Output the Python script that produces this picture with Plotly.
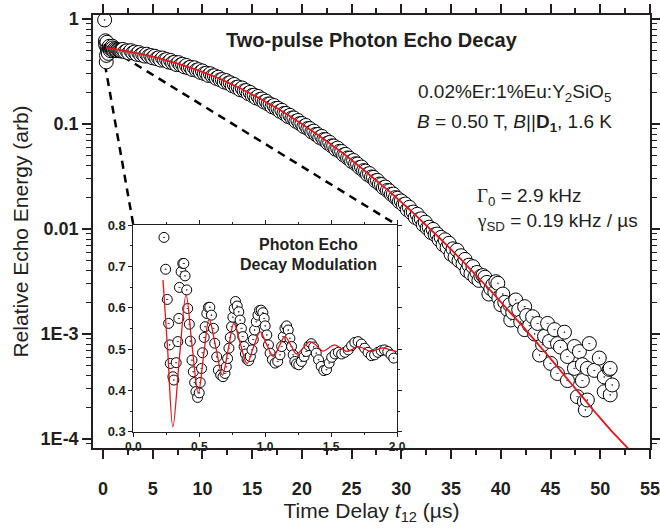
import plotly.graph_objects as go

# ---------------- data ----------------
# main decay data: time delay t12 (us) and relative echo energy
main_t = [0.17, 0.25, 0.28, 0.30, 0.33, 0.36, 0.40, 0.45, 0.50, 0.55,
          0.60, 0.65, 0.70, 0.75, 0.80, 0.85, 0.90, 0.95, 1.00, 1.05,
          1.10, 1.20, 1.30, 1.40, 1.50, 1.60, 1.70, 1.80, 1.90,
          2.0, 2.2, 2.4, 2.6, 2.8, 3.0, 3.2, 3.4, 3.6, 3.8,
          4.0, 4.2, 4.4, 4.6, 4.8, 5.0, 5.2, 5.4, 5.6, 5.8,
          6.0, 6.2, 6.4, 6.6, 6.8, 7.0, 7.2, 7.4, 7.6, 7.8,
          8.0, 8.2, 8.4, 8.6, 8.8, 9.0, 9.2, 9.4, 9.6, 9.8,
          10.0, 10.2, 10.4, 10.6, 10.8, 11.0, 11.2, 11.4, 11.6, 11.8,
          12.0, 12.2, 12.4, 12.6, 12.8, 13.0, 13.2, 13.4, 13.6, 13.8,
          14.0, 14.2, 14.4, 14.6, 14.8, 15.0, 15.2, 15.4, 15.6, 15.8,
          16.0, 16.2, 16.4, 16.6, 16.8, 17.0, 17.2, 17.4, 17.6, 17.8,
          18.0, 18.2, 18.4, 18.6, 18.8, 19.0, 19.2, 19.4, 19.6, 19.8,
          20.0, 20.2, 20.4, 20.6, 20.8, 21.0, 21.2, 21.4, 21.6, 21.8,
          22.0, 22.2, 22.4, 22.6, 22.8, 23.0, 23.2, 23.4, 23.6, 23.8,
          24.0, 24.2, 24.4, 24.6, 24.8, 25.0, 25.2, 25.4, 25.6, 25.8,
          26.0, 26.2, 26.4, 26.6, 26.8, 27.0, 27.2, 27.4, 27.6, 27.8,
          28.0, 28.2, 28.4, 28.6, 28.8, 29.0, 29.2, 29.4, 29.6, 29.8,
          30.0, 30.2, 30.4, 30.6, 30.8, 31.0, 31.2, 31.4, 31.6, 31.8,
          32.0, 32.2, 32.4, 32.6, 32.8, 33.0, 33.2, 33.4, 33.6, 33.8,
          34.0, 34.2, 34.4, 34.6, 34.8, 35.0, 35.2, 35.4, 35.6, 35.8,
          36.0, 36.2, 36.4, 36.6, 36.8, 37.0, 37.2, 37.4, 37.6, 37.8,
          38.0,
          38.2, 38.4, 38.6, 38.8, 39.0, 39.2, 39.4, 39.5, 39.7, 39.8,
          40.0, 40.2, 40.4, 40.7, 40.9, 41.0, 41.2, 41.5, 41.8, 42.0,
          42.4, 42.4, 42.6, 42.9, 43.2, 43.4, 43.7, 43.9, 44.2, 44.4,
          44.7, 44.9, 45.0, 45.4, 45.7, 45.7, 46.0, 46.4, 46.7, 46.7,
          47.4, 47.4, 47.7, 47.9, 48.2, 48.2, 48.4, 48.5, 48.7, 48.7,
          48.9, 49.4, 49.9, 50.4, 50.4, 50.9, 51.0, 51.0, 51.2]
main_y = [0.98, 0.62, 0.58, 0.56, 0.39, 0.45, 0.60, 0.52, 0.49, 0.47,
          0.53, 0.55, 0.52, 0.50, 0.52, 0.53, 0.54, 0.55, 0.53, 0.50,
          0.51, 0.52, 0.51, 0.50, 0.51, 0.505, 0.50, 0.495, 0.50,
          0.513, 0.488, 0.498, 0.475, 0.499, 0.476, 0.485, 0.461, 0.479, 0.455,
          0.463, 0.443, 0.462, 0.442, 0.449, 0.427, 0.442, 0.419, 0.427, 0.406,
          0.425, 0.405, 0.411, 0.389, 0.403, 0.382, 0.387, 0.368, 0.384, 0.365,
          0.370, 0.350, 0.361, 0.342, 0.347, 0.330, 0.343, 0.325, 0.329, 0.310,
          0.320, 0.302, 0.305, 0.290, 0.301, 0.286, 0.288, 0.272, 0.279, 0.263,
          0.265, 0.251, 0.259, 0.245, 0.247, 0.232, 0.238, 0.223, 0.225, 0.212,
          0.220, 0.207, 0.208, 0.195, 0.200, 0.187, 0.188, 0.177, 0.183, 0.172,
          0.173, 0.162, 0.165, 0.155, 0.155, 0.146, 0.150, 0.141, 0.141, 0.132,
          0.135, 0.126, 0.126, 0.118, 0.121, 0.114, 0.114, 0.106, 0.108, 0.101,
          0.101, 0.0944, 0.0968, 0.0906, 0.0904, 0.0841, 0.0855, 0.0796, 0.0794, 0.0743,
          0.0762, 0.0711, 0.0708, 0.0658, 0.0667, 0.0619, 0.0617, 0.0575, 0.0589, 0.0550,
          0.0547, 0.0507, 0.0513, 0.0475, 0.0472, 0.0440, 0.0449, 0.0418, 0.0415, 0.0385,
          0.0389, 0.0360, 0.0356, 0.0331, 0.0337, 0.0313, 0.0310, 0.0287, 0.0290, 0.0268,
          0.0265, 0.0247, 0.0251, 0.0233, 0.0231, 0.0214, 0.0215, 0.0199, 0.0196, 0.0182,
          0.0185, 0.0170, 0.0173, 0.0153, 0.0161, 0.0143, 0.0145, 0.0129, 0.0138, 0.0123,
          0.0125, 0.0110, 0.0116, 0.0102, 0.0104, 0.00925, 0.00991, 0.00883, 0.00895, 0.00791,
          0.00832, 0.00710, 0.00789, 0.00665, 0.00731, 0.00575, 0.00647, 0.00540, 0.00628, 0.00500,
          0.00556, 0.00468, 0.00513, 0.00403, 0.00452, 0.00376, 0.00437, 0.00347, 0.00385, 0.00324,
          0.00355,
          0.0036, 0.00347, 0.0031, 0.0024, 0.0027, 0.00295, 0.0025, 0.00315, 0.00304, 0.0022,
          0.0019, 0.0024, 0.0020, 0.0017, 0.0019, 0.00136, 0.0016, 0.00211, 0.0017, 0.0013,
          0.00182, 0.0011, 0.0015, 0.0012, 0.00146, 0.0010, 0.00126, 0.00063, 0.00079, 0.00095,
          0.00126, 0.00085, 0.000525, 0.0011, 0.00081, 0.00042, 0.00075, 0.00104, 0.00061, 0.00036,
          0.00076, 0.00047, 0.000253, 0.00068, 0.00051, 0.00036, 0.000227, 0.000189, 0.00047, 0.000235,
          0.00081, 0.00045, 0.00059, 0.00039, 0.000282, 0.00046, 0.00047, 0.000263, 0.000327]

# fitted decay curve (red)
fit_t = [0.3, 1, 2, 3, 4, 5, 6, 7, 8, 9, 10, 11, 12, 13, 14, 15, 16, 17, 18,
         19, 20, 21, 22, 23, 24, 25, 26, 27, 28, 29, 30, 31, 32, 33, 34, 35,
         36, 37, 38, 39, 40, 41, 42, 43, 44, 45, 46, 47, 48, 49, 50, 51, 52, 53, 54]
fit_y = [0.531, 0.519, 0.501, 0.481, 0.459, 0.437, 0.413, 0.389, 0.363, 0.339,
         0.313, 0.288, 0.263, 0.237, 0.214, 0.191, 0.170, 0.150, 0.132,
         0.115, 0.100, 0.0861, 0.0741, 0.0631, 0.0537, 0.0452, 0.0380, 0.0316,
         0.0263, 0.0219, 0.0180, 0.0148, 0.0120, 0.00977, 0.00794, 0.00638,
         0.00513, 0.00407, 0.00324, 0.00257, 0.00202, 0.00158, 0.00124,
         0.000966, 0.000750, 0.000582, 0.000447, 0.000343, 0.000266, 0.000204,
         0.000158, 0.000123, 0.0000977, 0.0000776, 0.0000617]

# inset: decay modulation over the first 2 us
inset_t = [0.2325, 0.245, 0.2575, 0.2675, 0.275, 0.28, 0.30, 0.3075, 0.325, 0.3375,
           0.345, 0.35, 0.3625, 0.375, 0.383, 0.3925, 0.405, 0.4125, 0.425, 0.4325,
           0.445, 0.455, 0.465, 0.475, 0.4875, 0.50, 0.5075, 0.5175, 0.525, 0.5375,
           0.545, 0.5575, 0.57, 0.58, 0.5925, 0.6075, 0.6175, 0.6325, 0.645, 0.6625,
           0.68, 0.695, 0.705, 0.715, 0.725, 0.735, 0.745, 0.755, 0.765, 0.775,
           0.7875, 0.80, 0.81, 0.82, 0.83, 0.84, 0.85, 0.8625, 0.875, 0.8875,
           0.90, 0.91, 0.92, 0.9325, 0.945, 0.9575, 0.97, 0.9825, 0.9925, 1.0,
           1.0125, 1.025, 1.0375, 1.055, 1.075, 1.095, 1.1125, 1.125, 1.1375, 1.15,
           1.1625, 1.175, 1.1875, 1.2, 1.2125, 1.225, 1.2375, 1.255, 1.275, 1.295,
           1.3125, 1.3325, 1.35, 1.3675, 1.3875, 1.405, 1.425, 1.445, 1.465, 1.485,
           1.505, 1.53, 1.555, 1.58, 1.605, 1.63, 1.655, 1.68, 1.705, 1.73,
           1.755, 1.78, 1.805, 1.83, 1.855, 1.88, 1.905, 1.93, 1.955, 1.975]
inset_v = [0.770, 0.693, 0.620, 0.562, 0.510, 0.465, 0.433, 0.425, 0.467, 0.518,
           0.574, 0.649, 0.687, 0.707, 0.707, 0.677, 0.643, 0.598, 0.560, 0.519,
           0.473, 0.445, 0.419, 0.397, 0.383, 0.394, 0.419, 0.453, 0.491, 0.528,
           0.554, 0.586, 0.601, 0.601, 0.582, 0.550, 0.514, 0.481, 0.449, 0.437,
           0.433, 0.441, 0.457, 0.477, 0.502, 0.528, 0.554, 0.577, 0.598, 0.615,
           0.604, 0.590, 0.570, 0.550, 0.530, 0.506, 0.488, 0.475, 0.472, 0.482,
           0.498, 0.523, 0.546, 0.566, 0.582, 0.593, 0.594, 0.588, 0.574, 0.556,
           0.534, 0.510, 0.490, 0.474, 0.466, 0.470, 0.486, 0.506, 0.530, 0.550,
           0.556, 0.546, 0.526, 0.506, 0.486, 0.470, 0.464, 0.462, 0.470, 0.482,
           0.494, 0.508, 0.513, 0.505, 0.490, 0.474, 0.458, 0.448, 0.450, 0.466,
           0.480, 0.488, 0.492, 0.488, 0.492, 0.498, 0.508, 0.516, 0.518, 0.512,
           0.502, 0.492, 0.484, 0.486, 0.492, 0.496, 0.498, 0.494, 0.486, 0.478]

inset_fit_t = [0.225, 0.26, 0.30, 0.35, 0.40, 0.445, 0.4925, 0.535, 0.575, 0.625,
               0.675, 0.72, 0.7625, 0.81, 0.8625, 0.91, 0.9625, 1.01, 1.0625, 1.105,
               1.15, 1.195, 1.2375, 1.29, 1.3375, 1.39, 1.4375, 1.48, 1.525, 1.575,
               1.62, 1.665, 1.71, 1.755, 1.80, 1.85, 1.895, 1.945, 2.0]
inset_fit_v = [0.667, 0.50, 0.312, 0.48, 0.631, 0.51, 0.393, 0.49, 0.572, 0.505,
               0.437, 0.50, 0.562, 0.515, 0.465, 0.503, 0.542, 0.512, 0.482, 0.506,
               0.530, 0.509, 0.488, 0.503, 0.518, 0.508, 0.495, 0.502, 0.510, 0.502,
               0.494, 0.500, 0.506, 0.500, 0.494, 0.499, 0.503, 0.498, 0.494]

# zoom-link dashed lines start on the main data (t, energy)
link_start_t = [0.2, 2.0]
link_start_y = [0.37, 0.44]

x_tickvals = [0, 5, 10, 15, 20, 25, 30, 35, 40, 45, 50, 55]
y_tickvals = [1, 0.1, 0.01, 0.001, 0.0001]
y_ticktext = ["1", "0.1", "0.01", "1E-3", "1E-4"]
inset_x_ticks = [0, 0.5, 1.0, 1.5, 2.0]
inset_x_text = ["0.0", "0.5", "1.0", "1.5", "2.0"]
inset_y_ticks = [0.3, 0.4, 0.5, 0.6, 0.7, 0.8]

# ---------------- layout constants ----------------
X_RANGE = [-1, 55]
Y_RANGE_LOG = [-4.086, 0.038]
INSET_X_DOMAIN = [0.0724, 0.5458]
INSET_Y_DOMAIN = [0.0376, 0.515]
FONT = "Liberation Sans, Arial, sans-serif"
INK = "#231f20"
RED = "#e8131b"

fig = go.Figure()

# dashed zoom links, ending at the inset's top corners
y_top = 10 ** (Y_RANGE_LOG[0] + INSET_Y_DOMAIN[1] * (Y_RANGE_LOG[1] - Y_RANGE_LOG[0]))
for k in range(2):
    t_end = X_RANGE[0] + INSET_X_DOMAIN[k] * (X_RANGE[1] - X_RANGE[0])
    fig.add_trace(go.Scatter(
        x=[link_start_t[k], t_end], y=[link_start_y[k], y_top],
        mode="lines", line=dict(color="black", width=2.5, dash="8px,6px"),
        xaxis="x", yaxis="y", showlegend=False, hoverinfo="skip"))

fig.add_trace(go.Scatter(
    x=main_t, y=main_y, mode="markers", xaxis="x", yaxis="y",
    marker=dict(symbol="circle-dot", size=14, color="white",
                line=dict(color="black", width=1)),
    showlegend=False))
fig.add_trace(go.Scatter(
    x=fit_t, y=fit_y, mode="lines", xaxis="x", yaxis="y",
    line=dict(color=RED, width=1.8, shape="spline"), showlegend=False))

# carrier for the label-only bottom axis
fig.add_trace(go.Scatter(x=[], y=[], xaxis="x3", yaxis="y", showlegend=False))

fig.add_trace(go.Scatter(
    x=inset_t, y=inset_v, mode="markers", xaxis="x2", yaxis="y2",
    marker=dict(symbol="circle-dot", size=10, color="white",
                line=dict(color="black", width=1)),
    showlegend=False))
fig.add_trace(go.Scatter(
    x=inset_fit_t, y=inset_fit_v, mode="lines", xaxis="x2", yaxis="y2",
    line=dict(color=RED, width=1.3, shape="spline"), showlegend=False))

minor_y = [m * 10 ** e for e in range(-5, 1) for m in range(2, 10)]

fig.update_layout(
    width=660, height=530,
    margin=dict(l=93, r=10, t=15, b=82, autoexpand=False),
    paper_bgcolor="white", plot_bgcolor="white",
    font=dict(family=FONT, color=INK),
    xaxis=dict(
        range=X_RANGE, domain=[0, 1], anchor="y", automargin=False,
        tickmode="array", tickvals=x_tickvals, showticklabels=False,
        ticks="outside", ticklen=9, tickwidth=1.5, tickcolor=INK,
        minor=dict(tickmode="array", tickvals=[2.5 + 5 * i for i in range(11)],
                   ticks="outside", ticklen=5, tickwidth=1.5, tickcolor=INK),
        showline=True, linewidth=1.5, linecolor=INK, mirror="ticks",
        showgrid=False, zeroline=False,
    ),
    xaxis3=dict(
        range=X_RANGE, overlaying="x", anchor="y", side="bottom", automargin=False,
        tickmode="array", tickvals=x_tickvals, ticklabeloverflow="allow",
        ticks="outside", ticklen=24, tickwidth=1, tickcolor="rgba(0,0,0,0)",
        showline=False, showgrid=False, zeroline=False,
        tickfont=dict(size=18, family=FONT, weight="bold", color=INK),
        title=dict(text="Time Delay <i>t</i><sub>12</sub> (\u00b5s)",
                   font=dict(size=21, family=FONT, color=INK), standoff=2),
    ),
    yaxis=dict(
        type="log", range=Y_RANGE_LOG, domain=[0, 1], anchor="x", automargin=False,
        tickmode="array", tickvals=y_tickvals, ticktext=y_ticktext,
        ticks="outside", ticklen=9, tickwidth=1.5, tickcolor=INK,
        minor=dict(tickmode="array", tickvals=minor_y,
                   ticks="outside", ticklen=5, tickwidth=1, tickcolor=INK),
        showline=True, linewidth=1.5, linecolor=INK, mirror="ticks",
        showgrid=False, zeroline=False,
        tickfont=dict(size=18, family=FONT, weight="bold", color=INK),
        title=dict(text="Relative Echo Energy (arb)",
                   font=dict(size=21, family=FONT, color=INK), standoff=6),
    ),
    xaxis2=dict(
        range=[0, 2.0], domain=INSET_X_DOMAIN, anchor="y2",
        tickmode="array", tickvals=inset_x_ticks, ticktext=inset_x_text,
        ticks="outside", ticklen=4, tickwidth=1, tickcolor=INK,
        minor=dict(tickmode="array", tickvals=[0.25, 0.75, 1.25, 1.75],
                   ticks="outside", ticklen=2, tickwidth=1, tickcolor=INK),
        showline=True, linewidth=1, linecolor=INK, mirror="ticks",
        showgrid=False, zeroline=False,
        tickfont=dict(size=12, family=FONT, weight="bold", color=INK),
    ),
    yaxis2=dict(
        range=[0.3, 0.8], domain=INSET_Y_DOMAIN, anchor="x2",
        tickmode="array", tickvals=inset_y_ticks,
        ticks="outside", ticklen=4, tickwidth=1, tickcolor=INK,
        minor=dict(tickmode="array", tickvals=[0.35, 0.45, 0.55, 0.65, 0.75],
                   ticks="outside", ticklen=2, tickwidth=1, tickcolor=INK),
        showline=True, linewidth=1, linecolor=INK, mirror="ticks",
        showgrid=False, zeroline=False,
        tickfont=dict(size=13, family=FONT, weight="bold", color=INK),
    ),
)

def note(text, x, y, size, xanchor="center", bold=False):
    fig.add_annotation(
        text=text, x=x, y=y, xref="paper", yref="paper",
        xanchor=xanchor, yanchor="middle", showarrow=False,
        font=dict(size=size, family=FONT, color=INK,
                  weight="bold" if bold else "normal"))

SERIF = "font-family:'Liberation Serif','Times New Roman',serif"
note("Two-pulse Photon Echo Decay", 0.500, 0.942, 20, bold=True)
note("0.02%Er:1%Eu:Y<sub>2</sub>SiO<sub>5</sub>", 0.756, 0.820, 19)
note("<i>B</i> = 0.50 T, <i>B</i>||<b>D<sub>1</sub></b>, 1.6 K", 0.756, 0.751, 19)
note(f"<span style=\"{SERIF}\">\u0393</span><sub>0</sub> = 2.9 kHz", 0.686, 0.580, 19, xanchor="left")
note(f"<span style=\"{SERIF}\">\u03b3</span><sub>SD</sub> = 0.19 kHz / \u00b5s", 0.686, 0.522, 19, xanchor="left")
note("Photon Echo", 0.386, 0.469, 16, bold=True)
note("Decay Modulation", 0.386, 0.423, 16, bold=True)

fig.write_html("out.html")
